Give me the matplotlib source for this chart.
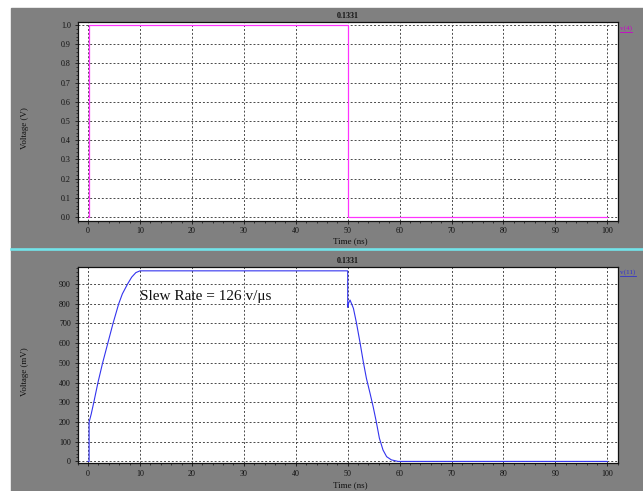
import numpy as np
import matplotlib
matplotlib.use("Agg")
import matplotlib.pyplot as plt
from matplotlib.patches import Rectangle
from matplotlib.lines import Line2D
from matplotlib.ticker import MultipleLocator

plt.rcParams['font.family'] = ['Liberation Serif', 'DejaVu Serif']

# v(4): input pulse (V)
t_in = [0, 0.2, 0.2, 50, 50, 100]
v_in = [0, 0, 1.0, 1.0, 0.0, 0.0]

# v(11): output (mV)
t_out = [0, 0.2, 0.2, 0.6, 1.1, 1.9, 2.8, 3.8, 4.8, 5.9, 6.6, 7.6, 8.4, 9.2, 10.0,
         50.0, 50.0, 50.2, 50.45, 51.1, 51.7, 52.4, 53.0, 53.6, 54.3, 54.9, 55.5,
         56.1, 56.8, 57.5, 58.4, 59.7, 100]
v_out = [0, 0, 200, 240, 300, 400, 500, 600, 700, 800, 850, 900, 935, 958, 967,
         967, 782, 805, 819, 777, 701, 599, 506, 422, 346, 278, 202, 118, 58, 24, 8, 0, 0]

x_ticks = [0, 10, 20, 30, 40, 50, 60, 70, 80, 90, 100]
title_txt = "0.1331"
note_txt = "Slew Rate = 126 v/\u03bcs"

W, H = 643, 491
fig = plt.figure(figsize=(W / 100, H / 100), dpi=100, facecolor='white')

# gray panel background + cyan divider
fig.patches.append(Rectangle((11 / W, 0), 1, (H - 8) / H, transform=fig.transFigure,
                             color='#808080', zorder=-10))
fig.lines.append(Line2D([11 / W, 1], [1 - 248.5 / H] * 2, transform=fig.transFigure,
                        color='#72e4ea', linewidth=1.9))

left, width = 77.7 / W, 540 / W
ax1 = fig.add_axes([left, 1 - 220.5 / H, width, 198.5 / H])
ax2 = fig.add_axes([left, 1 - 463 / H, width, 196.3 / H])

fs = 5.8
for ax in (ax1, ax2):
    ax.set_facecolor('white')
    ax.set_xlim(-2, 102)
    ax.set_xticks(x_ticks)
    ax.xaxis.set_minor_locator(MultipleLocator(2))
    ax.grid(True, which='major', color='#4a4a4a', linestyle=(0, (2, 2)), linewidth=0.7)
    ax.tick_params(which='major', direction='out', length=2.5, width=0.6, labelsize=fs,
                   colors='#111111', pad=2.5)
    ax.tick_params(which='minor', direction='out', length=1.3, width=0.5, colors='#111111')
    ax.tick_params(axis='x', which='major', pad=2.5)
    for s in ax.spines.values():
        s.set_color('#111111')
        s.set_linewidth(0.9)
    ax.set_title(title_txt, fontsize=fs, fontweight='bold', pad=3, color='#111111')

ax1.plot(t_in, v_in, color='#ff33ff', linewidth=0.9)
ax1.set_ylim(-0.018, 1.016)
ax1.set_yticks(np.round(np.arange(0, 1.01, 0.1), 1))
ax1.yaxis.set_major_formatter(lambda v, p: f"{v:.1f}")
ax1.yaxis.set_minor_locator(MultipleLocator(0.02))

ax2.plot(t_out, v_out, color='#3333ee', linewidth=0.8)
ax2.set_ylim(-8, 988)
ax2.set_yticks(range(0, 901, 100))
ax2.yaxis.set_minor_locator(MultipleLocator(20))
ax2.text(10, 836, note_txt, fontsize=11, va='center', ha='left', color='#111111')

# axis labels
lfs = 6.5
fig.text(350 / W, 1 - 241 / H, "Time (ns)", fontsize=lfs, ha='center', va='center', color='#111111')
fig.text(350 / W, 1 - 485.5 / H, "Time (ns)", fontsize=lfs, ha='center', va='center', color='#111111')
fig.text(25 / W, 1 - 128 / H, "Voltage (V)", fontsize=lfs, rotation=90, ha='center', va='center', color='#111111')
fig.text(25 / W, 1 - 372 / H, "Voltage (mV)", fontsize=lfs, rotation=90, ha='center', va='center', color='#111111')

# trace labels
fig.text(620 / W, 1 - 28 / H, "v(4)", fontsize=5.2, ha='left', va='center', color='#cc00cc')
fig.text(620 / W, 1 - 272 / H, "v(11)", fontsize=5.2, ha='left', va='center', color='#3333cc')
fig.lines.append(Line2D([620 / W, 632 / W], [1 - 31.5 / H] * 2, transform=fig.transFigure,
                        color='#cc00cc', linewidth=0.6))
fig.lines.append(Line2D([620 / W, 636 / W], [1 - 275.5 / H] * 2, transform=fig.transFigure,
                        color='#3333cc', linewidth=0.6))

fig.savefig("out.png", dpi=100, facecolor=fig.get_facecolor())
